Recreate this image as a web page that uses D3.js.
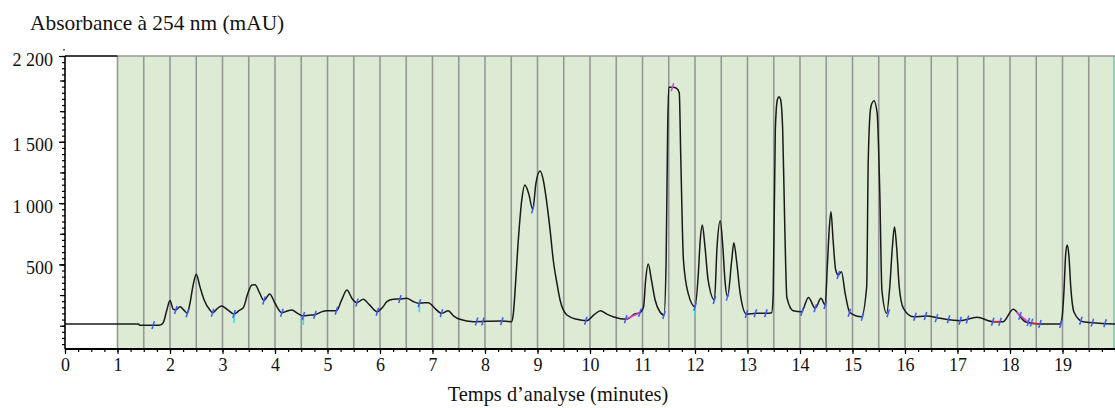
<!DOCTYPE html>
<html><head><meta charset="utf-8">
<script src="https://cdn.jsdelivr.net/npm/d3@7"></script>
<style>
html,body{margin:0;padding:0;background:#fff;}
svg{display:block;}
text{font-family:"Liberation Serif","Times New Roman",serif;fill:#111;}
</style></head>
<body>
<svg id="c" width="1115" height="408"></svg>
<script>
// ---- data ----
const times = [0.00,1.40,1.42,1.80,1.87,1.94,2.00,2.06,2.11,2.19,2.27,2.33,2.38,2.44,2.50,2.57,2.65,2.76,2.81,2.90,2.98,3.10,3.22,3.32,3.40,3.48,3.56,3.62,3.71,3.79,3.84,3.90,4.00,4.13,4.22,4.32,4.43,4.54,4.65,4.76,4.90,4.98,5.17,5.27,5.37,5.47,5.56,5.68,5.80,5.95,6.05,6.13,6.25,6.38,6.51,6.62,6.73,6.82,6.92,7.05,7.17,7.30,7.40,7.52,7.78,8.29,8.51,8.54,8.57,8.63,8.70,8.76,8.83,8.91,8.97,9.05,9.11,9.17,9.24,9.30,9.37,9.43,9.56,9.75,9.94,10.08,10.20,10.32,10.44,10.70,10.85,10.95,11.02,11.06,11.11,11.17,11.24,11.33,11.41,11.45,11.48,11.50,11.58,11.65,11.70,11.73,11.78,11.87,12.00,12.06,12.10,12.14,12.19,12.25,12.37,12.42,12.48,12.53,12.57,12.62,12.70,12.74,12.79,12.86,12.98,13.17,13.37,13.46,13.49,13.53,13.57,13.60,13.63,13.67,13.71,13.75,13.87,14.03,14.16,14.29,14.40,14.48,14.52,14.56,14.59,14.63,14.68,14.73,14.79,14.86,14.95,15.17,15.27,15.30,15.35,15.41,15.47,15.52,15.56,15.65,15.71,15.76,15.80,15.84,15.89,15.97,16.16,16.41,16.67,17.05,17.37,17.68,17.87,18.06,18.29,18.57,18.95,18.99,19.03,19.06,19.09,19.12,19.16,19.22,19.39,20.00];
const absorbance = [14,14,3,3,24,128,205,135,128,155,125,101,183,330,420,318,210,128,106,140,161,130,95,125,150,260,332,335,264,205,230,258,183,106,118,128,100,79,85,90,115,122,122,210,291,220,188,215,170,114,150,196,215,218,223,200,183,186,188,140,101,122,80,52,33,38,33,100,264,672,1025,1148,1080,949,1161,1262,1188,1025,780,536,346,210,87,52,41,90,122,95,73,52,95,106,155,373,503,373,210,114,87,536,1623,1945,1945,1935,1900,1352,536,264,155,400,699,821,644,373,210,644,856,644,373,237,536,677,536,264,95,101,101,106,264,1600,1845,1868,1845,1600,808,230,122,114,231,142,223,169,481,808,930,699,454,413,440,264,106,73,318,1352,1786,1835,1732,1080,291,101,318,644,808,644,318,142,73,79,60,41,68,33,33,134,33,14,14,60,300,580,658,580,300,110,33,14];

const markerTimes  = [1.68,2.11,2.33,2.81,3.22,3.79,4.13,4.54,4.76,5.17,5.56,5.95,6.38,6.75,7.17,7.84,7.96,8.32,8.91,9.92,10.68,10.95,11.41,11.57,12.00,12.37,12.62,12.98,13.15,13.35,14.04,14.29,14.48,14.73,14.94,15.19,15.68,16.19,16.39,16.60,16.83,17.05,17.19,17.67,17.81,18.19,18.35,18.41,18.57,18.97,19.35,19.57,19.81];
const markerValues = [5,128,101,106,95,205,106,79,90,122,188,114,218,183,101,34,35,37,949,41,52,106,87,1945,155,210,237,95,101,101,114,142,169,413,106,73,101,73,79,62,52,41,50,33,33,80,30,25,14,14,40,25,20];
const markerKinds  = ["b","b","b","b","c","b","b","c","b","b","b","b","b","c","b","b","b","b","b","b","b","b","b","p","c","b","b","b","b","b","b","b","b","b","b","b","b","b","b","b","b","b","b","b","b","b","b","b","b","b","b","b","b"];

const segStart = [10.68,17.67,18.12,18.41];
const segEnd   = [10.95,17.81,18.35,18.57];
const segV0    = [52,33,110,22];
const segV1    = [106,33,30,14];
const segColor = ["#e040c8","#e02020","#e040c8","#e02020"];

const yLabelValues = [500,1000,1500,2200];
const xLabelValues = [0,1,2,3,4,5,6,7,8,9,10,11,12,13,14,15,16,17,18,19];
const fractionLines = d3.range(1, 20, 0.5);

// ---- drawing ----
const svg = d3.select("#c");
const x = d3.scaleLinear().domain([0,20]).range([65,1115]);
const y = d3.scaleLinear().domain([-190,2200]).range([349,56]);

svg.append("rect").attr("x",x(1)).attr("y",y(2200)).attr("width",x(20)-x(1)).attr("height",y(-190)-y(2200))
  .attr("fill","#ddebd5");
svg.append("g").selectAll("line").data(fractionLines).join("line")
  .attr("x1",d=>x(d)).attr("x2",d=>x(d)).attr("y1",y(2200)).attr("y2",y(-190))
  .attr("stroke","#979797").attr("stroke-width",1.6);
svg.append("line").attr("x1",x(19.98)).attr("x2",x(19.98)).attr("y1",y(2200)).attr("y2",y(-190))
  .attr("stroke","#6cc9b8").attr("stroke-width",1.5);
svg.append("line").attr("x1",x(1)).attr("x2",x(20)).attr("y1",y(2200)).attr("y2",y(2200))
  .attr("stroke","#979797").attr("stroke-width",1.6);
svg.append("line").attr("x1",x(0)).attr("x2",x(1)).attr("y1",y(2200)).attr("y2",y(2200))
  .attr("stroke","#000").attr("stroke-width",1.5);

const pts = times.map((t,i)=>[t,absorbance[i]]);
const line = d3.line().x(d=>x(d[0])).y(d=>y(d[1])).curve(d3.curveMonotoneX);
svg.append("path").datum(pts).attr("d",line).attr("fill","none")
  .attr("stroke","#1a1a1a").attr("stroke-width",1.5);

svg.append("g").selectAll("line").data(segStart).join("line")
  .attr("x1",(d,i)=>x(d)).attr("x2",(d,i)=>x(segEnd[i]))
  .attr("y1",(d,i)=>y(segV0[i])).attr("y2",(d,i)=>y(segV1[i]))
  .attr("stroke",(d,i)=>segColor[i]).attr("stroke-width",1.6);

const mk = markerTimes.map((t,i)=>({t,v:markerValues[i],k:markerKinds[i]}));
const mg = svg.append("g");
mg.selectAll("line.c").data(mk.filter(d=>d.k==="c")).join("line").attr("class","c")
  .attr("x1",d=>x(d.t)).attr("x2",d=>x(d.t))
  .attr("y1",d=>y(d.v)).attr("y2",d=>y(d.v)+9)
  .attr("stroke","#33e0e0").attr("stroke-width",1.6);
mg.selectAll("line.m").data(mk).join("line").attr("class","m")
  .attr("x1",d=>x(d.t)-1.2).attr("x2",d=>x(d.t)+1.2)
  .attr("y1",d=>y(d.v)+4).attr("y2",d=>y(d.v)-4)
  .attr("stroke",d=>d.k==="p"?"#c050d0":"#3a5cff").attr("stroke-width",1.5);

const fmt = d3.formatLocale({decimal:",",thousands:" ",grouping:[3],currency:["",""]}).format(",");
const yMinor = svg.append("g").attr("transform",`translate(${x(0)},0)`)
  .call(d3.axisLeft(y).tickValues(d3.range(-150,2201,50)).tickSize(3).tickFormat(""));
const yMid = svg.append("g").attr("transform",`translate(${x(0)},0)`)
  .call(d3.axisLeft(y).tickValues(d3.range(0,2201,250)).tickSize(5).tickFormat(""));
const yMaj = svg.append("g").attr("transform",`translate(${x(0)},0)`)
  .call(d3.axisLeft(y).tickValues(yLabelValues).tickSize(6).tickPadding(6).tickFormat(fmt));
[yMinor,yMid,yMaj].forEach(g=>{g.select(".domain").remove();g.selectAll("line").attr("stroke","#000").attr("stroke-width",1.2);});
yMaj.selectAll("text").attr("font-size",18).attr("dy","0.5em").attr("fill","#111")
  .attr("font-family","Liberation Serif, serif");
svg.append("line").attr("x1",x(0)).attr("x2",x(0)).attr("y1",y(2200)).attr("y2",y(-190))
  .attr("stroke","#000").attr("stroke-width",1.6);
svg.append("circle").attr("cx",x(0)-1).attr("cy",y(2250)).attr("r",0.8).attr("fill","#000");

const xMinor = svg.append("g").attr("transform",`translate(0,${y(-190)})`)
  .call(d3.axisBottom(x).tickValues(d3.range(0,20.01,0.25)).tickSize(3).tickFormat(""));
const xMaj = svg.append("g").attr("transform",`translate(0,${y(-190)})`)
  .call(d3.axisBottom(x).tickValues(xLabelValues).tickSize(5).tickPadding(4).tickFormat(d3.format("d")));
[xMinor,xMaj].forEach(g=>{g.select(".domain").remove();g.selectAll("line").attr("stroke","#000").attr("stroke-width",1.2);});
xMaj.selectAll("text").attr("font-size",18).attr("fill","#111").attr("font-family","Liberation Serif, serif");
svg.append("line").attr("x1",x(0)).attr("x2",x(20)).attr("y1",y(-190)).attr("y2",y(-190))
  .attr("stroke","#000").attr("stroke-width",1.8);

svg.append("text").attr("x",30).attr("y",30).attr("font-size",21.4).text("Absorbance à 254 nm (mAU)");
svg.append("text").attr("x",558).attr("y",401).attr("text-anchor","middle").attr("font-size",20.4).text("Temps d’analyse (minutes)");
</script>
</body></html>
